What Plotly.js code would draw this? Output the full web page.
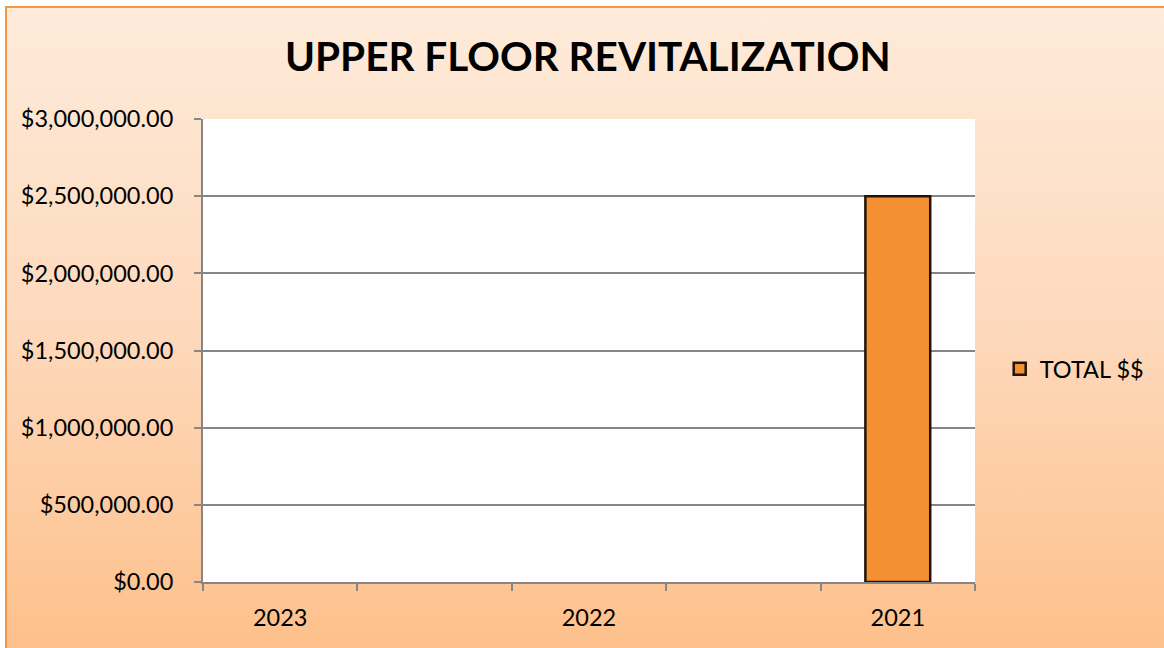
<!DOCTYPE html>
<html>
<head>
<meta charset="utf-8">
<script src="https://cdn.plot.ly/plotly-3.0.1.min.js"></script>
<style>
  body { margin: 0; background: #ffffff; }
  #bg {
    position: absolute; left: 5px; top: 6px; width: 1159px; height: 642px;
    border-top: 2px solid #F79646; border-left: 2px solid #F79646;
    background: linear-gradient(to bottom, #FEEBDA 0%, #FDD9BC 50%, #FDC08B 100%);
  }
  #chart { position: absolute; left: 0; top: 0; width: 1164px; height: 648px; }
</style>
</head>
<body>
<div id="bg"></div>
<div id="chart"></div>
<script>
// five category slots, only every other one carries a year label
const slots = ['2023', ' ', '2022', '  ', '2021'];
const totals = [null, null, null, null, 2500000];
const yTicks = [0, 500000, 1000000, 1500000, 2000000, 2500000, 3000000];
const yTickText = ['$0.00', '$500,000.00', '$1,000,000.00', '$1,500,000.00',
                   '$2,000,000.00', '$2,500,000.00', '$3,000,000.00'];

const font = 'Lato, "Open Sans", sans-serif';

const trace = {
  x: slots,
  y: totals,
  type: 'bar',
  name: 'TOTAL $$',
  width: 0.42,
  marker: { color: '#F39132', line: { color: '#22140a', width: 2.5 } },
  hoverinfo: 'y'
};

const layout = {
  width: 1164,
  height: 648,
  margin: { l: 203, r: 189, t: 119, b: 66 },
  paper_bgcolor: 'rgba(0,0,0,0)',
  plot_bgcolor: '#ffffff',
  font: { family: font, size: 23, color: '#000000' },
  title: {
    text: '<b>UPPER FLOOR REVITALIZATION</b>',
    font: { family: font, size: 40.5, color: '#000000' },
    x: 0.505, xanchor: 'center', y: 0.912, yanchor: 'middle'
  },
  xaxis: {
    type: 'category',
    tickson: 'boundaries',
    ticks: 'outside', ticklen: 7, tickcolor: '#868686', tickwidth: 2,
    showline: true, linecolor: '#868686', linewidth: 2,
    showgrid: false,
    ticklabelstandoff: 14,
    tickfont: { family: font, size: 23.5 }
  },
  yaxis: {
    range: [0, 3000000],
    tickvals: yTicks,
    ticktext: yTickText,
    ticks: 'outside', ticklen: 7, tickcolor: '#868686', tickwidth: 2,
    showline: true, linecolor: '#868686', linewidth: 2,
    gridcolor: '#868686', gridwidth: 1.5,
    zeroline: false,
    ticklabelstandoff: 16,
    tickfont: { family: font, size: 23.5 }
  },
  showlegend: true,
  legend: {
    x: 1.032, xanchor: 'left', y: 0.46, yanchor: 'middle',
    bgcolor: 'rgba(0,0,0,0)',
    font: { family: font, size: 23.5 }
  }
};

Plotly.newPlot('chart', [trace], layout, { displayModeBar: false });
</script>
</body>
</html>
